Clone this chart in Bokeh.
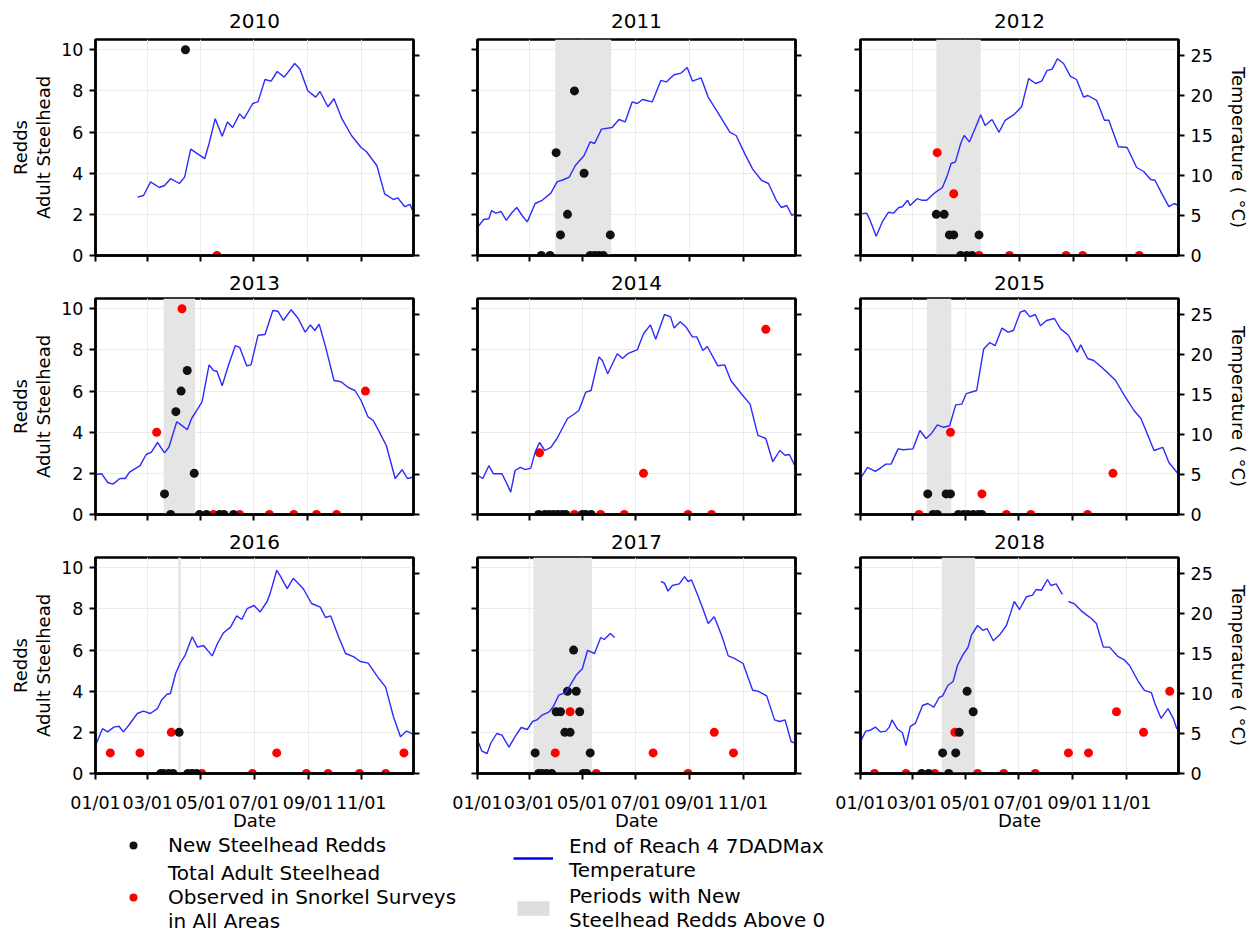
import numpy as np
import pandas as pd
from bokeh.plotting import figure
from bokeh.layouts import column, row
from bokeh.models import (Range1d, LinearAxis, FixedTicker, DatetimeTickFormatter,
                          CustomJSTickFormatter, Legend, LegendItem, ColumnDataSource,
                          BoxAnnotation)
from bokeh.embed import file_html
from bokeh.resources import INLINE

NAN = float("nan")
FONT = "DejaVu Sans"

YEARS = [2010, 2011, 2012, 2013, 2014, 2015, 2016, 2017, 2018]
TICK_MONTHS = [1, 3, 5, 7, 9, 11]
COUNT_TICKS = [0, 2, 4, 6, 8, 10]
TEMP_TICKS = [0, 5, 10, 15, 20, 25]

# ---- End of Reach 4 7DADMax temperature (day of year, deg C) ----
TEMP_DAY_2010 = [48, 55, 63, 73, 79, 86, 96, 102, 109, 117, 125, 130, 137, 145, 151, 157, 165, 170, 180, 186, 194, 201, 208, 216, 228, 234, 243, 252, 257, 266, 273, 282, 293, 304, 310, 322, 331, 341, 346, 354, 360, 364]
TEMP_C_2010 = [7.3, 7.5, 9.2, 8.5, 8.75, 9.6, 9.0, 9.8, 13.3, 12.7, 12.1, 14.0, 17.1, 14.9, 16.7, 16.0, 17.7, 17.1, 19.0, 19.2, 22.0, 21.8, 23.0, 22.3, 24.0, 23.3, 20.6, 19.8, 20.5, 18.6, 19.6, 17.1, 15.0, 13.5, 13.0, 11.25, 7.7, 7.0, 7.2, 6.1, 6.4, 5.3]

TEMP_DAY_2011 = [0, 7, 13, 16, 21, 27, 33, 39, 45, 51, 57, 66, 74, 84, 91, 99, 105, 112, 122, 129, 134, 142, 154, 162, 169, 177, 183, 189, 200, 210, 216, 225, 233, 240, 246, 256, 264, 275, 289, 296, 306, 315, 325, 333, 342, 348, 354, 360, 365]
TEMP_C_2011 = [3.5, 4.5, 4.6, 5.6, 5.3, 5.5, 4.4, 5.3, 6.0, 5.0, 4.2, 6.5, 6.9, 7.8, 9.2, 9.5, 9.8, 11.25, 12.5, 14.2, 14.0, 15.8, 16.0, 17.0, 16.7, 19.2, 19.0, 19.5, 19.2, 21.9, 21.7, 22.6, 22.8, 23.5, 21.8, 22.2, 19.8, 17.9, 15.4, 15.0, 12.7, 10.8, 9.4, 9.0, 6.9, 6.0, 6.25, 5.0, 5.4]

TEMP_DAY_2012 = [0, 7, 11, 18, 25, 32, 38, 44, 48, 54, 57, 65, 71, 76, 86, 94, 99, 104, 109, 115, 119, 125, 132, 138, 143, 151, 159, 166, 176, 185, 193, 201, 208, 214, 220, 226, 233, 241, 248, 256, 261, 271, 280, 285, 296, 306, 317, 325, 333, 338, 346, 354, 360, 365]
TEMP_C_2012 = [5.2, 5.3, 4.4, 2.4, 4.2, 5.4, 5.3, 6.0, 6.1, 6.9, 6.25, 7.1, 6.9, 6.9, 7.9, 8.5, 9.8, 11.5, 11.7, 14.0, 15.0, 14.2, 16.0, 17.6, 16.25, 17.0, 15.4, 16.9, 17.6, 18.6, 22.1, 21.5, 21.8, 23.1, 23.3, 24.6, 24.0, 22.4, 22.0, 19.8, 20.0, 19.4, 16.9, 16.9, 13.6, 13.5, 11.0, 10.5, 9.5, 9.4, 7.7, 6.1, 6.5, 6.25]

TEMP_DAY_2013 = [0, 7, 14, 20, 28, 34, 39, 51, 58, 64, 71, 79, 84, 93, 98, 105, 110, 117, 122, 130, 135, 139, 145, 152, 160, 165, 173, 178, 186, 194, 203, 209, 215, 224, 232, 240, 246, 251, 256, 263, 273, 281, 289, 297, 304, 312, 318, 325, 333, 343, 351, 357, 365]
TEMP_C_2013 = [5.0, 5.1, 4.0, 3.8, 4.5, 4.5, 5.3, 6.1, 7.5, 7.8, 9.0, 7.7, 8.4, 11.6, 11.2, 10.6, 12.0, 13.2, 14.1, 18.7, 18.0, 17.9, 16.1, 18.6, 21.1, 20.9, 18.6, 18.7, 22.4, 22.5, 25.5, 25.4, 24.25, 25.6, 24.5, 22.8, 23.7, 23.0, 23.8, 21.1, 16.75, 16.6, 15.9, 15.5, 14.25, 12.2, 11.75, 10.3, 8.6, 4.5, 5.6, 4.5, 4.7]

TEMP_DAY_2014 = [0, 6, 13, 18, 28, 33, 38, 43, 49, 55, 61, 66, 71, 77, 84, 91, 103, 110, 116, 124, 130, 139, 143, 149, 160, 166, 172, 183, 190, 198, 204, 214, 221, 225, 232, 239, 246, 251, 258, 263, 275, 283, 290, 302, 312, 321, 330, 338, 346, 352, 357, 365]
TEMP_C_2014 = [4.9, 4.5, 6.1, 5.1, 5.1, 4.0, 2.8, 5.5, 5.9, 5.6, 5.8, 7.8, 9.0, 8.0, 8.4, 9.5, 12.0, 12.5, 13.0, 15.3, 15.5, 19.7, 19.25, 17.6, 20.1, 19.5, 20.1, 20.6, 22.6, 23.7, 21.9, 25.0, 24.7, 23.3, 24.1, 23.4, 22.2, 22.2, 20.5, 21.0, 18.6, 18.7, 16.75, 15.1, 13.8, 9.9, 9.5, 6.6, 8.0, 7.4, 7.5, 5.7]

TEMP_DAY_2015 = [0, 8, 17, 24, 29, 35, 43, 49, 60, 68, 75, 81, 88, 95, 102, 109, 116, 121, 133, 141, 148, 154, 162, 169, 175, 183, 188, 194, 200, 206, 213, 222, 229, 238, 248, 252, 260, 267, 275, 282, 292, 302, 313, 321, 326, 336, 346, 353, 365]
TEMP_C_2015 = [4.5, 5.9, 5.4, 5.9, 6.3, 6.3, 8.2, 8.1, 8.2, 10.5, 9.5, 10.1, 11.2, 10.9, 11.1, 13.7, 13.8, 15.1, 15.5, 20.7, 21.5, 21.1, 23.3, 22.8, 23.0, 25.3, 25.5, 24.7, 25.0, 23.6, 24.25, 24.5, 23.2, 22.4, 20.3, 21.2, 19.5, 19.25, 18.5, 17.8, 16.75, 14.9, 13.0, 12.0, 10.7, 8.0, 8.4, 6.5, 4.9]

TEMP_DAY_2016 = [1, 8, 14, 21, 27, 32, 38, 48, 55, 63, 71, 76, 82, 86, 92, 97, 103, 111, 117, 124, 134, 140, 147, 155, 162, 168, 174, 182, 189, 197, 201, 208, 212, 220, 227, 235, 239, 248, 258, 264, 270, 279, 287, 296, 304, 313, 325, 333, 342, 350, 357, 365]
TEMP_C_2016 = [3.75, 5.6, 5.2, 5.8, 5.9, 5.2, 6.0, 7.5, 7.8, 7.5, 8.1, 9.2, 9.9, 10.0, 12.5, 13.75, 14.8, 17.1, 15.8, 16.0, 14.7, 16.25, 17.6, 18.3, 19.7, 19.25, 20.6, 21.0, 20.2, 21.5, 22.7, 25.4, 24.7, 23.1, 24.4, 23.5, 23.0, 21.25, 20.8, 19.5, 19.7, 17.1, 15.0, 14.6, 14.0, 13.8, 11.9, 10.8, 7.1, 4.6, 5.3, 4.9]

TEMP_DAY_2017 = [0, 5, 11, 15, 22, 28, 36, 43, 50, 57, 63, 68, 74, 82, 87, 93, 101, 107, 113, 120, 126, 134, 141, 145, 152, 157, 185, 210, 214, 218, 223, 231, 237, 241, 245, 252, 258, 264, 271, 275, 280, 287, 294, 304, 310, 315, 321, 331, 340, 346, 352, 359, 365]
TEMP_C_2017 = [4.2, 2.8, 2.5, 3.75, 5.0, 4.8, 3.3, 4.6, 5.75, 5.5, 6.5, 6.7, 7.3, 7.7, 8.4, 9.8, 10.1, 11.2, 12.3, 13.1, 15.4, 15.0, 17.0, 16.75, 17.5, 17.0, NAN, 24.0, 23.8, 22.8, 23.5, 23.7, 24.6, 24.0, 24.2, 22.3, 20.6, 18.75, 19.6, 18.5, 17.1, 14.7, 14.4, 13.75, 11.9, 10.4, 10.3, 9.7, 6.7, 6.5, 6.7, 4.0, 3.7]

TEMP_DAY_2018 = [0, 6, 11, 17, 23, 29, 33, 36, 42, 48, 52, 57, 63, 71, 77, 84, 90, 94, 100, 106, 111, 117, 123, 127, 134, 140, 145, 152, 159, 167, 171, 176, 182, 190, 197, 201, 207, 214, 218, 224, 231, 234, 238, 245, 253, 259, 264, 270, 278, 285, 295, 302, 308, 318, 325, 333, 337, 344, 352, 358, 362, 365]
TEMP_C_2018 = [4.0, 5.3, 5.4, 5.8, 5.2, 5.3, 5.8, 6.7, 5.6, 5.1, 3.5, 5.9, 6.3, 8.5, 8.75, 8.3, 9.5, 9.7, 11.0, 11.5, 13.5, 14.8, 15.75, 17.3, 18.5, 17.9, 18.1, 16.6, 17.3, 18.5, 19.8, 21.5, 20.5, 22.1, 22.3, 23.0, 22.9, 24.25, 23.5, 23.7, 22.4, NAN, 21.5, 21.2, 20.3, 19.8, 19.4, 18.75, 15.8, 15.8, 14.6, 14.2, 13.5, 11.5, 10.4, 10.1, 8.75, 6.9, 8.1, 6.9, 5.6, 5.9]

# ---- New steelhead redds (day of year, count) ----
REDD_DAY_2010 = [103]
REDD_N_2010 = [10]
REDD_DAY_2011 = [73, 83, 90, 95, 103, 111, 122, 129, 134, 139, 144, 152]
REDD_N_2011 = [0, 0, 5, 1, 2, 8, 4, 0, 0, 0, 0, 1]
REDD_DAY_2012 = [87, 96, 102, 107, 115, 122, 128, 136]
REDD_N_2012 = [2, 2, 1, 1, 0, 0, 0, 1]
REDD_DAY_2013 = [79, 86, 92, 98, 105, 113, 119, 127, 142, 147, 158]
REDD_N_2013 = [1, 0, 5, 6, 7, 2, 0, 0, 0, 0, 0]
REDD_DAY_2014 = [70, 77, 82, 87, 92, 97, 101, 120, 124, 130]
REDD_N_2014 = [0, 0, 0, 0, 0, 0, 0, 0, 0, 0]
REDD_DAY_2015 = [77, 83, 88, 98, 103, 112, 118, 123, 129, 135, 139]
REDD_N_2015 = [1, 0, 0, 1, 1, 0, 0, 0, 0, 0, 0]
REDD_DAY_2016 = [75, 78, 84, 89, 96, 106, 111, 116]
REDD_N_2016 = [0, 0, 0, 0, 2, 0, 0, 0]
REDD_DAY_2017 = [66, 70, 74, 79, 85, 90, 95, 100, 103, 106, 110, 113, 117, 121, 125, 129]
REDD_N_2017 = [1, 0, 0, 0, 0, 3, 3, 2, 4, 2, 6, 4, 3, 0, 0, 1]
REDD_DAY_2018 = [70, 78, 94, 101, 109, 113, 122, 129]
REDD_N_2018 = [0, 0, 1, 0, 1, 2, 4, 3]

# ---- Total adult steelhead in snorkel surveys (day of year, count) ----
ADULT_DAY_2010 = [139]
ADULT_N_2010 = [0]
ADULT_DAY_2011 = []
ADULT_N_2011 = []
ADULT_DAY_2012 = [88, 107, 136, 171, 236, 255, 320]
ADULT_N_2012 = [5, 3, 0, 0, 0, 0, 0]
ADULT_DAY_2013 = [70, 99, 135, 165, 199, 227, 253, 276, 309]
ADULT_N_2013 = [4, 10, 0, 0, 0, 0, 0, 0, 6]
ADULT_DAY_2014 = [71, 111, 141, 168, 190, 241, 268, 330]
ADULT_N_2014 = [3, 0, 0, 0, 2, 0, 0, 9]
ADULT_DAY_2015 = [67, 103, 139, 167, 195, 260, 289]
ADULT_N_2015 = [0, 4, 1, 0, 0, 0, 2]
ADULT_DAY_2016 = [17, 51, 87, 122, 180, 208, 242, 267, 303, 333, 354]
ADULT_N_2016 = [1, 1, 2, 0, 0, 1, 0, 0, 0, 0, 1]
ADULT_DAY_2017 = [89, 106, 136, 201, 241, 271, 293]
ADULT_N_2017 = [1, 3, 0, 1, 0, 2, 1]
ADULT_DAY_2018 = [16, 52, 85, 108, 134, 164, 200, 238, 261, 293, 324, 354]
ADULT_N_2018 = [0, 0, 0, 2, 0, 0, 0, 1, 1, 3, 2, 4]

# ---- Periods with new steelhead redds above 0 (day of year) ----
PERIOD_YEAR = [2011, 2012, 2013, 2015, 2016, 2017, 2018]
PERIOD_START_DAY = [89, 87, 78, 76, 95, 64, 93]
PERIOD_END_DAY = [153, 138, 114, 104, 98, 131, 131]

TEMPS = {2010: (TEMP_DAY_2010, TEMP_C_2010), 2011: (TEMP_DAY_2011, TEMP_C_2011),
         2012: (TEMP_DAY_2012, TEMP_C_2012), 2013: (TEMP_DAY_2013, TEMP_C_2013),
         2014: (TEMP_DAY_2014, TEMP_C_2014), 2015: (TEMP_DAY_2015, TEMP_C_2015),
         2016: (TEMP_DAY_2016, TEMP_C_2016), 2017: (TEMP_DAY_2017, TEMP_C_2017),
         2018: (TEMP_DAY_2018, TEMP_C_2018)}
REDDS = {2010: (REDD_DAY_2010, REDD_N_2010), 2011: (REDD_DAY_2011, REDD_N_2011),
         2012: (REDD_DAY_2012, REDD_N_2012), 2013: (REDD_DAY_2013, REDD_N_2013),
         2014: (REDD_DAY_2014, REDD_N_2014), 2015: (REDD_DAY_2015, REDD_N_2015),
         2016: (REDD_DAY_2016, REDD_N_2016), 2017: (REDD_DAY_2017, REDD_N_2017),
         2018: (REDD_DAY_2018, REDD_N_2018)}
ADULTS = {2010: (ADULT_DAY_2010, ADULT_N_2010), 2011: (ADULT_DAY_2011, ADULT_N_2011),
          2012: (ADULT_DAY_2012, ADULT_N_2012), 2013: (ADULT_DAY_2013, ADULT_N_2013),
          2014: (ADULT_DAY_2014, ADULT_N_2014), 2015: (ADULT_DAY_2015, ADULT_N_2015),
          2016: (ADULT_DAY_2016, ADULT_N_2016), 2017: (ADULT_DAY_2017, ADULT_N_2017),
          2018: (ADULT_DAY_2018, ADULT_N_2018)}

SHADE = "#e5e5e5"
BLACK_DOT = "#111111"
RED_DOT = "#ff0000"
LINE_BLUE = "#2b2bff"
FRAME_W = 318
FRAME_H = 216


def to_dates(year, days):
    base = pd.Timestamp(year=year, month=1, day=1)
    return base + pd.to_timedelta(np.asarray(days, dtype=float), unit="D")


def ms(ts):
    return ts.value / 1e6


def style_axis(ax, labels):
    ax.axis_line_color = "black"
    ax.axis_line_width = 2.5
    ax.major_tick_line_color = "black"
    ax.major_tick_line_width = 2
    ax.major_tick_out = 6
    ax.major_tick_in = 0
    ax.minor_tick_line_color = None
    ax.major_label_text_font = FONT
    ax.major_label_text_font_size = "17.5px"
    ax.major_label_text_color = "black"
    ax.major_label_standoff = 6
    ax.axis_label_text_font = FONT
    ax.axis_label_text_font_size = "18px"
    ax.axis_label_text_font_style = "normal"
    ax.axis_label_text_color = "black"
    if not labels:
        ax.formatter = CustomJSTickFormatter(code="return ''")
        ax.major_label_standoff = 0


def title_axis(text, standoff):
    # an axis with no ticks that only carries the panel title
    ax = LinearAxis(ticker=FixedTicker(ticks=[]), axis_label=text)
    ax.axis_line_color = None
    ax.major_tick_line_color = None
    ax.minor_tick_line_color = None
    ax.major_tick_out = 0
    ax.major_tick_in = 0
    ax.minor_tick_out = 0
    ax.minor_tick_in = 0
    ax.major_label_standoff = 0
    ax.axis_label_standoff = standoff
    ax.axis_label_text_font = FONT
    ax.axis_label_text_font_size = "20px"
    ax.axis_label_text_font_style = "normal"
    ax.axis_label_text_color = "black"
    return ax


def make_panel(idx, year):
    col = idx % 3
    rw = idx // 3
    left_b = [95, 32, 33][col]
    right_b = [32, 32, 79][col]
    top_b = 39 if rw == 0 else 33
    bot_b = 57 if rw == 2 else 10

    x0 = pd.Timestamp(year=year, month=1, day=1)
    x1 = pd.Timestamp(year=year, month=12, day=31)
    p = figure(frame_width=FRAME_W, frame_height=FRAME_H, x_axis_type="datetime",
               x_range=Range1d(ms(x0), ms(x1)), y_range=Range1d(0, 10.5),
               min_border_left=left_b, min_border_right=right_b,
               min_border_top=top_b, min_border_bottom=bot_b,
               output_backend="svg", toolbar_location=None)
    p.extra_y_ranges = {"temp": Range1d(0, 27)}
    p.background_fill_color = "white"
    p.border_fill_color = "white"
    p.outline_line_color = "black"
    p.outline_line_width = 2.5
    p.outline_line_alpha = 1.0

    xax = p.below[0]
    xticks = [ms(pd.Timestamp(year=year, month=m, day=1)) for m in TICK_MONTHS]
    xt = FixedTicker(ticks=xticks)
    xax.ticker = xt
    p.xgrid.ticker = xt
    xax.formatter = DatetimeTickFormatter(years="%m/%d", months="%m/%d", days="%m/%d",
                                          hours="%m/%d", minutes="%m/%d", seconds="%m/%d",
                                          milliseconds="%m/%d", microseconds="%m/%d")
    style_axis(xax, rw == 2)
    xax.major_label_standoff = 13 if rw == 2 else 0
    if rw == 2:
        xax.axis_label = "Date"
        xax.axis_label_standoff = -6

    yax = p.left[0]
    yt = FixedTicker(ticks=COUNT_TICKS)
    yax.ticker = yt
    p.ygrid.ticker = yt
    style_axis(yax, col == 0)
    if col == 0:
        yax.axis_label = "Redds\nAdult Steelhead"
        yax.axis_label_standoff = 4
        yax.axis_label_text_line_height = 1.1

    rax = LinearAxis(y_range_name="temp", ticker=FixedTicker(ticks=TEMP_TICKS))
    style_axis(rax, col == 2)
    if col == 2:
        rax.axis_label = "Temperature ( \u00b0C)"
        rax.axis_label_standoff = 12
    p.add_layout(rax, "right")

    p.add_layout(title_axis(str(year), 12 if rw == 0 else 9), "above")

    p.xgrid.grid_line_color = "#ebebeb"
    p.ygrid.grid_line_color = "#ebebeb"
    p.xgrid.grid_line_width = 1
    p.ygrid.grid_line_width = 1

    # shaded periods
    for py, s, e in zip(PERIOD_YEAR, PERIOD_START_DAY, PERIOD_END_DAY):
        if py == year:
            d = to_dates(year, [s, e])
            p.add_layout(BoxAnnotation(left=ms(d[0]), right=ms(d[1]),
                                       fill_color=SHADE, fill_alpha=1.0,
                                       line_color=None, level="underlay"))

    ad, an = ADULTS[year]
    src_a = ColumnDataSource(dict(x=to_dates(year, ad), y=list(an)))
    p.scatter("x", "y", source=src_a, size=9, fill_color=RED_DOT, line_color=None)

    rd, rn = REDDS[year]
    src_r = ColumnDataSource(dict(x=to_dates(year, rd), y=list(rn)))
    p.scatter("x", "y", source=src_r, size=9, fill_color=BLACK_DOT, line_color=None)

    td, tc = TEMPS[year]
    src_t = ColumnDataSource(dict(x=to_dates(year, td), y=list(tc)))
    p.line("x", "y", source=src_t, y_range_name="temp", line_color=LINE_BLUE,
           line_width=1.4)
    return p


panels = [make_panel(i, y) for i, y in enumerate(YEARS)]


# ---- legend strip (two host figures side by side) ----
# The host ranges are (0, 1); the legend renderers reuse real series whose values all
# fall outside those ranges, so only their legend swatches appear.
def legend_host(width, left, top):
    f = figure(width=width, height=932 - 830, x_range=Range1d(0, 1), y_range=Range1d(0, 1),
               x_axis_location=None, y_axis_location=None, min_border_left=left,
               min_border_right=0, min_border_top=top, min_border_bottom=0,
               output_backend="svg", toolbar_location=None)
    f.outline_line_color = None
    f.grid.visible = False
    return f


def legend_style(lg, margin, spacing):
    lg.location = "top_left"
    lg.border_line_color = None
    lg.background_fill_alpha = 0
    lg.label_text_font = FONT
    lg.label_text_font_size = "20px"
    lg.label_text_color = "black"
    lg.label_text_line_height = 1.3
    lg.padding = 0
    lg.margin = margin
    lg.spacing = spacing


leg1 = legend_host(500, 124, 1)
r_redd = leg1.scatter(x=REDD_DAY_2011, y=REDD_N_2011, size=9.5, fill_color=BLACK_DOT, line_color=None)
r_adult = leg1.scatter(x=ADULT_DAY_2012, y=ADULT_N_2012, size=9.5, fill_color=RED_DOT, line_color=None)
lg1 = Legend(items=[LegendItem(label="New Steelhead Redds", renderers=[r_redd]),
                    LegendItem(label="Total Adult Steelhead\nObserved in Snorkel Surveys\nin All Areas",
                               renderers=[r_adult])],
             glyph_width=20, glyph_height=20, label_standoff=25)
legend_style(lg1, -1, 4)
leg1.add_layout(lg1, "center")

leg2 = legend_host(757, 13, 1)
r_temp = leg2.line(x=TEMP_DAY_2011, y=TEMP_C_2011, line_color="blue", line_width=2.5)
r_per = leg2.quad(left=PERIOD_START_DAY, right=PERIOD_END_DAY, bottom=0, top=1,
                  fill_color="#dddddd", line_color=None)
lg2 = Legend(items=[LegendItem(label="End of Reach 4 7DADMax\nTemperature", renderers=[r_temp]),
                    LegendItem(label="Periods with New\nSteelhead Redds Above 0", renderers=[r_per])],
             glyph_width=40, glyph_height=18, label_standoff=16)
legend_style(lg2, 0, 2)
leg2.add_layout(lg2, "center")

layout = column(row(*panels[0:3]), row(*panels[3:6]), row(*panels[6:9]), row(leg1, leg2))

open("out.html", "w").write(file_html(layout, INLINE))
